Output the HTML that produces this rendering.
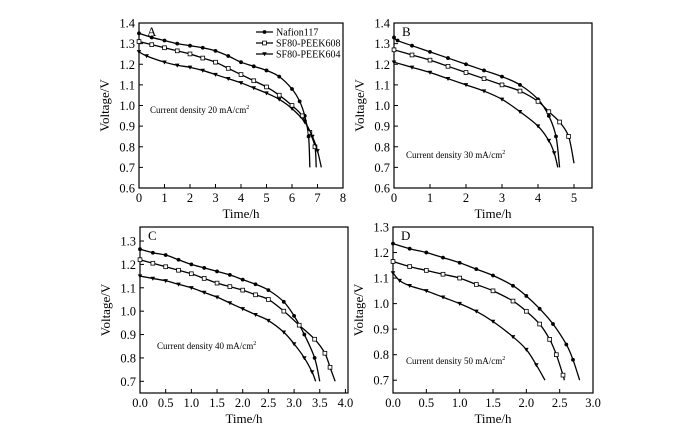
<!DOCTYPE html>
<html><head><meta charset="utf-8">
<style>
body{margin:0;background:#fff;}
svg{display:block;font-family:"Liberation Serif",serif;}
</style></head>
<body>
<svg id="fig" width="700" height="437" viewBox="0 0 700 437"></svg>
<script>
// ---- data ----
const seriesNames = ["Nafion117","SF80-PEEK608","SF80-PEEK604"];
const aNafionT = [0,0.5,1,1.5,2,2.5,3,3.5,4,4.5,5,5.5,6,6.3,6.5,6.65,6.7];
const aNafionV = [1.35,1.33,1.315,1.30,1.29,1.28,1.265,1.24,1.21,1.19,1.17,1.14,1.08,1.02,0.95,0.85,0.7];
const a608T = [0,0.5,1,1.5,2,2.5,3,3.5,4,4.5,5,5.5,6,6.4,6.7,6.9,6.95];
const a608V = [1.31,1.295,1.28,1.265,1.25,1.23,1.21,1.18,1.15,1.12,1.09,1.05,1.0,0.95,0.87,0.8,0.7];
const a604T = [0,0.3,1,1.5,2,2.5,3,3.5,4,4.5,5,5.5,6,6.5,6.8,7.0,7.15];
const a604V = [1.26,1.24,1.21,1.195,1.185,1.17,1.15,1.13,1.11,1.085,1.06,1.03,0.985,0.92,0.85,0.78,0.7];
const bNafionT = [0,0.1,0.5,1,1.5,2,2.5,3,3.5,4,4.3,4.5,4.6];
const bNafionV = [1.33,1.315,1.29,1.26,1.23,1.2,1.17,1.14,1.1,1.03,0.95,0.85,0.7];
const b608T = [0,0.5,1,1.5,2,2.5,3,3.5,4,4.3,4.6,4.85,5.0];
const b608V = [1.27,1.245,1.22,1.19,1.16,1.13,1.1,1.07,1.02,0.97,0.92,0.85,0.72];
const b604T = [0,0.5,1,1.5,2,2.5,3,3.5,4,4.3,4.45,4.55];
const b604V = [1.21,1.185,1.16,1.13,1.1,1.07,1.03,0.97,0.9,0.83,0.77,0.7];
const cNafionT = [0,0.25,0.5,0.75,1,1.25,1.5,1.75,2,2.25,2.5,2.8,3.0,3.2,3.4,3.5];
const cNafionV = [1.265,1.25,1.24,1.22,1.2,1.185,1.17,1.155,1.135,1.115,1.09,1.04,0.98,0.9,0.8,0.7];
const c608T = [0,0.25,0.5,0.75,1,1.25,1.5,1.75,2,2.25,2.5,2.8,3.1,3.4,3.6,3.7,3.8];
const c608V = [1.22,1.205,1.19,1.175,1.16,1.14,1.12,1.105,1.09,1.07,1.05,1.0,0.94,0.88,0.82,0.76,0.7];
const c604T = [0,0.25,0.5,0.75,1,1.25,1.5,1.75,2,2.25,2.5,2.8,3.0,3.2,3.35,3.42];
const c604V = [1.15,1.14,1.13,1.115,1.1,1.08,1.06,1.035,1.01,0.985,0.96,0.91,0.86,0.8,0.74,0.7];
const dNafionT = [0,0.25,0.5,0.75,1,1.25,1.5,1.8,2.0,2.2,2.4,2.6,2.7,2.8];
const dNafionV = [1.235,1.215,1.2,1.18,1.16,1.135,1.11,1.07,1.03,0.98,0.92,0.84,0.78,0.7];
const d608T = [0,0.25,0.5,0.75,1,1.25,1.5,1.8,2.0,2.2,2.35,2.45,2.55,2.57];
const d608V = [1.165,1.145,1.13,1.115,1.1,1.075,1.05,1.01,0.97,0.92,0.86,0.8,0.72,0.7];
const d604T = [0,0.1,0.25,0.5,0.75,1,1.25,1.5,1.8,2.0,2.15,2.28];
const d604V = [1.12,1.09,1.07,1.05,1.025,1.0,0.97,0.93,0.87,0.82,0.76,0.7];
const aXTicks = [0,1,2,3,4,5,6,7,8];
const bXTicks = [0,1,2,3,4,5];
const cXTicks = [0,0.5,1,1.5,2,2.5,3,3.5,4];
const dXTicks = [0,0.5,1,1.5,2,2.5,3];
const abYTicks = [0.6,0.7,0.8,0.9,1.0,1.1,1.2,1.3,1.4];
const cdYTicks = [0.7,0.8,0.9,1.0,1.1,1.2,1.3];

const NS="http://www.w3.org/2000/svg";
const svg=document.getElementById('fig');
function mk(tag,attrs,parent){const e=document.createElementNS(NS,tag);for(const k in attrs)e.setAttribute(k,attrs[k]);(parent||svg).appendChild(e);return e;}

const panels=[
 {id:'a',letter:'A',L:139,R:343,T:23,B:188,xmin:0,xmax:8,ymin:0.6,ymax:1.4,xt:aXTicks,yt:abYTicks,dec:0,
  s:[[aNafionT,aNafionV],[a608T,a608V],[a604T,a604V]],note:'Current density 20 mA/cm',nx:150,ny:113,legend:true},
 {id:'b',letter:'B',L:394,R:592,T:23,B:188,xmin:0,xmax:5.5,ymin:0.6,ymax:1.4,xt:bXTicks,yt:abYTicks,dec:0,
  s:[[bNafionT,bNafionV],[b608T,b608V],[b604T,b604V]],note:'Current density 30 mA/cm',nx:406,ny:158},
 {id:'c',letter:'C',L:140,R:348,T:227,B:393,xmin:0,xmax:4.05,ymin:0.65,ymax:1.36,xt:cXTicks,yt:cdYTicks,dec:1,
  s:[[cNafionT,cNafionV],[c608T,c608V],[c604T,c604V]],note:'Current density 40 mA/cm',nx:157,ny:349},
 {id:'d',letter:'D',L:393,R:593,T:227,B:393,xmin:0,xmax:3.0,ymin:0.65,ymax:1.30,xt:dXTicks,yt:cdYTicks,dec:1,
  s:[[dNafionT,dNafionV],[d608T,d608V],[d604T,d604V]],note:'Current density 50 mA/cm',nx:406,ny:364}
];

function marker(kind,x,y,g){
  let m;
  if(kind===0){m=mk('circle',{cx:x,cy:y,r:1.9,fill:'#000'},g);}
  else if(kind===1){m=mk('rect',{x:x-1.9,y:y-1.9,width:3.8,height:3.8,fill:'#fff',stroke:'#000','stroke-width':0.8},g);}
  else {m=mk('path',{d:`M${x-2.3},${y-1.7}L${x+2.3},${y-1.7}L${x},${y+2.3}Z`,fill:'#000'},g);}
  
  
}
function smoothPath(pts){
  let d=`M${pts[0][0]},${pts[0][1]}`;
  for(let i=0;i<pts.length-1;i++){
    const p0=pts[Math.max(0,i-1)],p1=pts[i],p2=pts[i+1],p3=pts[Math.min(pts.length-1,i+2)];
    const c1=[p1[0]+(p2[0]-p0[0])/6,p1[1]+(p2[1]-p0[1])/6];
    const c2=[p2[0]-(p3[0]-p1[0])/6,p2[1]-(p3[1]-p1[1])/6];
    d+=`C${c1[0]},${c1[1]} ${c2[0]},${c2[1]} ${p2[0]},${p2[1]}`;
  }
  return d;
}

panels.forEach(p=>{
  const g=mk('g',{});
  
  
  const X=v=>p.L+(v-p.xmin)/(p.xmax-p.xmin)*(p.R-p.L);
  const Y=v=>p.B-(v-p.ymin)/(p.ymax-p.ymin)*(p.B-p.T);
  const fr=mk('rect',{x:p.L,y:p.T,width:p.R-p.L,height:p.B-p.T,fill:'none',stroke:'#000','stroke-width':1.2},g);
  
  
  p.xt.forEach(v=>{
    const x=X(v);
    mk('line',{x1:x,x2:x,y1:p.B,y2:p.B-4,stroke:'#000','stroke-width':1},g);
    const t=mk('text',{x:x,y:p.B+14,'text-anchor':'middle','font-size':12.5},g);
    t.textContent=v.toFixed(p.dec);
    
    
  });
  p.yt.forEach(v=>{
    const y=Y(v);
    mk('line',{x1:p.L,x2:p.L+4,y1:y,y2:y,stroke:'#000','stroke-width':1},g);
    const t=mk('text',{x:p.L-4,y:y+4.5,'text-anchor':'end','font-size':12.5},g);
    t.textContent=v.toFixed(1);
    
    
  });
  const xl=mk('text',{x:(p.L+p.R)/2,y:p.B+30,'text-anchor':'middle','font-size':13},g);
  xl.textContent='Time/h';
  
  
  const yx=p.L-30,yy=(p.T+p.B)/2;
  const yl=mk('text',{x:yx,y:yy,'text-anchor':'middle','font-size':13,transform:`rotate(-90 ${yx} ${yy})`},g);
  yl.textContent='Voltage/V';
  
  
  const lt=mk('text',{x:p.L+8,y:p.T+13,'font-size':13},g);
  lt.textContent=p.letter;
  
  
  const nt=mk('text',{x:p.nx,y:p.ny,'font-size':9},g);
  nt.textContent=p.note;
  const sup=mk('tspan',{dy:-4,'font-size':6},nt);sup.textContent='2';
  
  
  p.s.forEach((s,k)=>{
    const pts=s[0].map((t,i)=>[X(t),Y(s[1][i])]);
    const path=mk('path',{d:smoothPath(pts),fill:'none',stroke:'#000','stroke-width':1.3},g);
    
    
    pts.slice(0,-1).forEach(q=>marker(k,q[0],q[1],g));
  });
  if(p.legend){
    seriesNames.forEach((n,k)=>{
      const y=32+k*11;
      const lg=mk('g',{},g);
      
      
      mk('line',{x1:256,x2:273,y1:y,y2:y,stroke:'#000','stroke-width':1.3},lg);
      marker(k,264.5,y,lg);
      const t=mk('text',{x:276,y:y+3.5,'font-size':10},lg);
      t.textContent=n;
    });
  }
});
</script>
</body></html>
